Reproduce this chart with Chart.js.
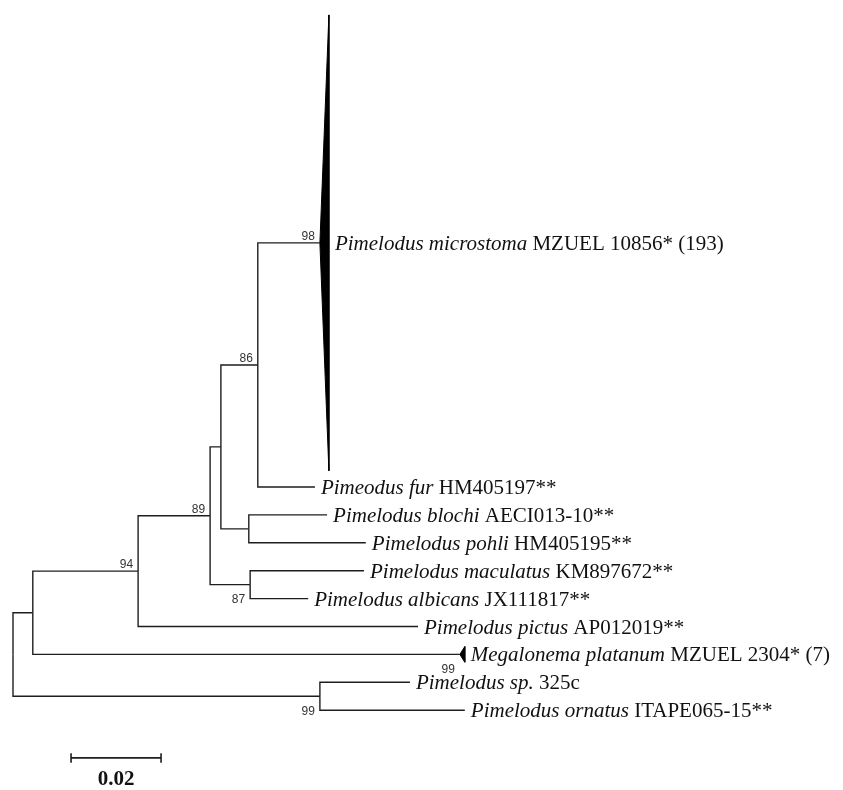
<!DOCTYPE html>
<html>
<head>
<meta charset="utf-8">
<script src="https://cdn.jsdelivr.net/npm/chart.js@4.4.1/dist/chart.umd.min.js"></script>
<style>
html,body{margin:0;padding:0;background:#fff;}
#wrap{width:843px;height:790px;}
</style>
</head>
<body>
<div id="wrap"><canvas id="c" width="843" height="790"></canvas></div>
<script>
// ---- internal nodes (depth in substitutions/site) ----
const nodeNames   = ['root', 'A', 'N94', 'N89', 'B', 'N86', 'C', 'N87', 'N99'];
const nodeDepths  = [0.0000, 0.0044, 0.0278, 0.0438, 0.0462, 0.0544, 0.0524, 0.0527, 0.0682];
const nodeParents = [null, 'root', 'A', 'N94', 'N89', 'B', 'B', 'N89', 'root'];

// ---- leaves (rows: evenly spaced terminal positions; collapsed clade spans several) ----
const leafItalic = ['Pimelodus microstoma', 'Pimeodus fur', 'Pimelodus blochi', 'Pimelodus pohli',
  'Pimelodus maculatus', 'Pimelodus albicans', 'Pimelodus pictus', 'Megalonema platanum',
  'Pimelodus sp.', 'Pimelodus ornatus'];
const leafPlain = [' MZUEL 10856* (193)', ' HM405197**', ' AECI013-10**', ' HM405195**',
  ' KM897672**', ' JX111817**', ' AP012019**', ' MZUEL 2304* (7)', ' 325c', ' ITAPE065-15**'];
const leafParents = ['N86', 'N86', 'C', 'C', 'N87', 'N87', 'N94', 'A', 'N99', 'N99'];
const leafDepths  = [0.0682, 0.0671, 0.0698, 0.0784, 0.0780, 0.0656, 0.0900, 0.0993, 0.0882, 0.1004];
const leafRows    = [-8.75, 0, 1, 2, 3, 4, 5, 6, 7, 8];
// collapsed subtrees: far-edge depth and half-height in rows (0 = ordinary leaf)
const collapsedTipDepth = [0.0702, 0, 0, 0, 0, 0, 0, 0.1004, 0, 0];
const collapsedHalfRows = [8.17, 0, 0, 0, 0, 0, 0, 0.28, 0, 0];

// ---- bootstrap support ----
const bootTargets = ['leaf0', 'N86', 'N89', 'N94', 'N87', 'leaf7', 'N99'];
const bootValues  = ['98', '86', '89', '94', '87', '99', '99'];
const bootPlace   = ['above', 'above', 'above', 'above', 'below', 'below', 'below'];

// ---- scale bar ----
const scaleBarStart = 0.0129;
const scaleBarLength = 0.02;
const scaleBarLabel = '0.02';
const scaleBarRow = 9.71;

// ---- build tree geometry from the arrays ----
const nodes = {};
nodeNames.forEach((n, i) => nodes[n] = {name: n, depth: nodeDepths[i], parent: nodeParents[i], children: []});
leafItalic.forEach((n, i) => {
  const id = 'leaf' + i;
  nodes[id] = {name: id, depth: leafDepths[i], parent: leafParents[i], children: [], row: leafRows[i], leaf: i};
});
// child order (top to bottom)
const order = ['A', 'N99', 'N94', 'leaf7', 'N89', 'leaf6', 'B', 'N87', 'N86', 'C', 'leaf0', 'leaf1', 'leaf2', 'leaf3', 'leaf4', 'leaf5', 'leaf8', 'leaf9'];
order.forEach(id => { const nd = nodes[id]; nodes[nd.parent].children.push(id); });
function rowOf(id) {
  const nd = nodes[id];
  if (nd.row !== undefined) return nd.row;
  const c = nd.children;
  nd.row = (rowOf(c[0]) + rowOf(c[c.length - 1])) / 2;
  return nd.row;
}
rowOf('root');

const lineColor = '#1e1e1e';
const datasets = [];
Object.values(nodes).forEach(nd => {
  if (!nd.parent) return;
  const p = nodes[nd.parent];
  datasets.push({
    data: [{x: p.depth, y: p.row}, {x: p.depth, y: nd.row}, {x: nd.depth, y: nd.row}],
    showLine: true, borderColor: lineColor, borderWidth: 1.4, pointRadius: 0, fill: false, tension: 0
  });
});
// collapsed clade triangles
leafItalic.forEach((n, i) => {
  if (!collapsedHalfRows[i]) return;
  const r = leafRows[i], h = collapsedHalfRows[i];
  datasets.push({
    data: [{x: leafDepths[i], y: r}, {x: collapsedTipDepth[i], y: r - h}, {x: collapsedTipDepth[i], y: r + h}, {x: leafDepths[i], y: r}],
    showLine: true, borderColor: '#000', borderWidth: 1, backgroundColor: '#000', pointRadius: 0, fill: 'shape', tension: 0
  });
});
// scale bar
const tickH = 0.17;
const sbEnd = scaleBarStart + scaleBarLength;
datasets.push({
  data: [{x: scaleBarStart, y: scaleBarRow - tickH}, {x: scaleBarStart, y: scaleBarRow + tickH},
         {x: scaleBarStart, y: scaleBarRow}, {x: sbEnd, y: scaleBarRow},
         {x: sbEnd, y: scaleBarRow - tickH}, {x: sbEnd, y: scaleBarRow + tickH}],
  showLine: true, borderColor: lineColor, borderWidth: 1.6, pointRadius: 0, fill: false, tension: 0
});

const labelPlugin = {
  id: 'treeLabels',
  afterDatasetsDraw(chart) {
    const ctx = chart.ctx, xs = chart.scales.x, ys = chart.scales.y;
    ctx.save();
    // taxon labels
    const fs = 21;
    leafItalic.forEach((n, i) => {
      const tipDepth = collapsedHalfRows[i] ? collapsedTipDepth[i] : leafDepths[i];
      let x = xs.getPixelForValue(tipDepth) + 6;
      const y = ys.getPixelForValue(leafRows[i]) + 1.5;
      ctx.textBaseline = 'middle';
      ctx.textAlign = 'left';
      ctx.fillStyle = '#111';
      ctx.font = 'italic ' + fs + 'px "Liberation Serif", "Times New Roman", serif';
      ctx.fillText(n, x, y);
      x += ctx.measureText(n).width;
      ctx.font = fs + 'px "Liberation Serif", "Times New Roman", serif';
      ctx.fillText(leafPlain[i], x, y);
    });
    // bootstrap values
    ctx.font = '12px "Liberation Sans", Arial, sans-serif';
    ctx.fillStyle = '#333';
    ctx.textAlign = 'right';
    bootTargets.forEach((id, i) => {
      const nd = nodes[id];
      const px = xs.getPixelForValue(nd.depth) - 5;
      const py = ys.getPixelForValue(nd.row);
      if (bootPlace[i] === 'above') {
        ctx.textBaseline = 'alphabetic';
        ctx.fillText(bootValues[i], px, py - 3);
      } else {
        ctx.textBaseline = 'top';
        ctx.fillText(bootValues[i], px, py + 9);
      }
    });
    // scale bar label
    ctx.font = 'bold 21px "Liberation Serif", "Times New Roman", serif';
    ctx.fillStyle = '#111';
    ctx.textAlign = 'center';
    ctx.textBaseline = 'middle';
    ctx.fillText(scaleBarLabel, (xs.getPixelForValue(scaleBarStart) + xs.getPixelForValue(sbEnd)) / 2,
                 ys.getPixelForValue(scaleBarRow) + 22);
    ctx.restore();
  }
};

new Chart(document.getElementById('c'), {
  type: 'scatter',
  data: {datasets},
  options: {
    responsive: false,
    animation: false,
    devicePixelRatio: 1,
    layout: {padding: 0},
    plugins: {legend: {display: false}, tooltip: {enabled: false}},
    scales: {
      x: {type: 'linear', display: false, min: -13 / 4500, max: 830 / 4500},
      y: {type: 'linear', display: false, reverse: true, min: -487 / 27.9, max: (790 - 487) / 27.9}
    }
  },
  plugins: [labelPlugin]
});
</script>
</body>
</html>
